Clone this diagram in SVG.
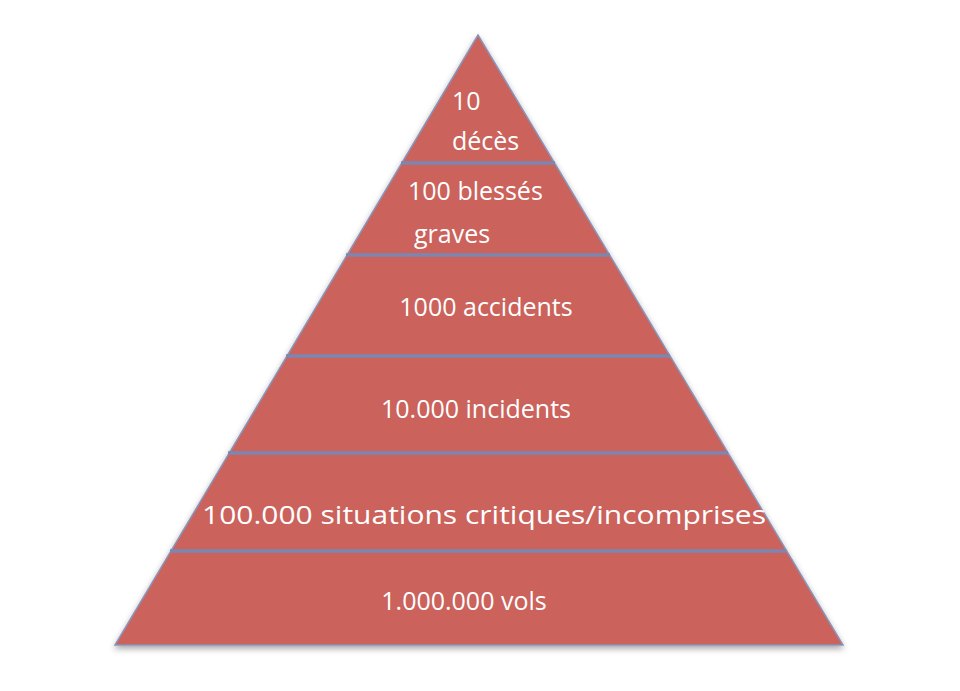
<svg xmlns="http://www.w3.org/2000/svg" width="960" height="691" viewBox="0 0 960 691">
<defs>
<filter id="sh" x="-10%" y="-10%" width="120%" height="120%"><feDropShadow dx="0" dy="3" stdDeviation="3" flood-color="#000" flood-opacity="0.35"/></filter>
</defs>
<style>
text{font-family:"Open Sans","Liberation Sans",sans-serif;font-size:25px;fill:#fff}
.d{stroke:#7B87B0;stroke-width:3.5}
</style>
<rect width="960" height="691" fill="#fff"/>
<g id="pyramid">
<polygon points="478,35 843,645 115,645" fill="#CB625C" stroke="#8A93B8" stroke-width="1.5" filter="url(#sh)"/>
</g>
<g id="dividers">
<line class="d" x1="401" y1="163" x2="555" y2="163"/>
<line class="d" x1="346" y1="255" x2="610" y2="255"/>
<line class="d" x1="286" y1="356" x2="670" y2="356"/>
<line class="d" x1="228" y1="453" x2="728" y2="453"/>
<line class="d" x1="170" y1="551" x2="786" y2="551"/>
</g>
<g id="n1"><text x="452" y="110">10</text><text x="452" y="150">décès</text></g>
<g id="n2"><text x="408" y="200">100 blessés</text><text x="414" y="243">graves</text></g>
<g id="n3"><text x="486" y="316" text-anchor="middle">1000 accidents</text></g>
<g id="n4"><text x="476" y="418" text-anchor="middle">10.000 incidents</text></g>
<g id="n5"><text x="202" y="524" textLength="564" lengthAdjust="spacingAndGlyphs">100.000 situations critiques/incomprises</text></g>
<g id="n6"><text x="464" y="610" text-anchor="middle">1.000.000 vols</text></g>
</svg>
